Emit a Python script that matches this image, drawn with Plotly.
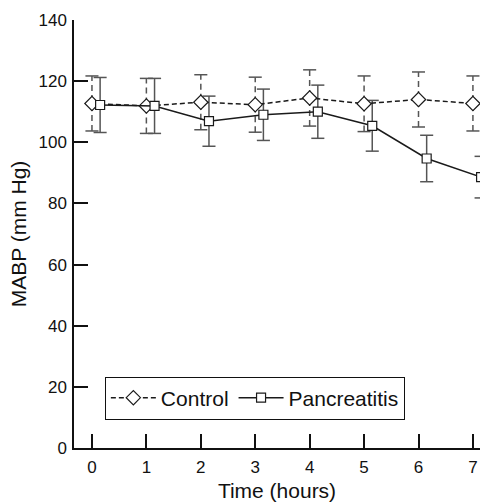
import plotly.graph_objects as go

hours = [0, 1, 2, 3, 4, 5, 6, 7]
control_mean = [112.7, 111.9, 113.1, 112.3, 114.5, 112.6, 114.0, 112.7]
control_sd = [9.0, 9.0, 9.0, 9.0, 9.2, 9.1, 9.0, 9.0]
panc_mean = [112.2, 111.9, 106.9, 109.0, 110.0, 105.4, 94.7, 88.6]
panc_sd = [9.0, 9.0, 8.2, 8.4, 8.7, 8.3, 7.6, 6.8]
panc_offset = 0.15
cap_half = 0.12

x_ctrl = [h for h in hours]
x_panc = [h + panc_offset for h in hours]

LINE = "#1a1a1a"
ERR = "#555555"
FONT = "Arial, Liberation Sans, Helvetica, sans-serif"


def stems(xs, ms, sds):
    xx, yy = [], []
    for x, m, s in zip(xs, ms, sds):
        xx += [x, x, None]
        yy += [m - s, m + s, None]
    return xx, yy


def caps(xs, ms, sds):
    xx, yy = [], []
    for x, m, s in zip(xs, ms, sds):
        for v in (m - s, m + s):
            xx += [x - cap_half, x + cap_half, None]
            yy += [v, v, None]
    return xx, yy


fig = go.Figure()

for xs, ms, sds, dash in [(x_ctrl, control_mean, control_sd, "6px,4px"),
                          (x_panc, panc_mean, panc_sd, "solid")]:
    sx, sy = stems(xs, ms, sds)
    fig.add_trace(go.Scatter(x=sx, y=sy, mode="lines", showlegend=False,
                             hoverinfo="skip",
                             line=dict(color=ERR, width=1.5, dash=dash)))
    cx, cy = caps(xs, ms, sds)
    fig.add_trace(go.Scatter(x=cx, y=cy, mode="lines", showlegend=False,
                             hoverinfo="skip",
                             line=dict(color=ERR, width=1.5)))

fig.add_trace(go.Scatter(
    x=x_ctrl, y=control_mean, mode="lines+markers", name="Control",
    line=dict(color=LINE, width=1.5, dash="5px,3px"),
    marker=dict(symbol="diamond", size=11, color="white",
                line=dict(color=LINE, width=1.2)),
))
fig.add_trace(go.Scatter(
    x=x_panc, y=panc_mean, mode="lines+markers", name="Pancreatitis",
    line=dict(color=LINE, width=1.5),
    marker=dict(symbol="square", size=9, color="white",
                line=dict(color=LINE, width=1.2)),
))

fig.update_layout(
    width=480, height=502,
    margin=dict(l=74, r=0, t=20, b=51),
    paper_bgcolor="white", plot_bgcolor="white",
    font=dict(family=FONT, color="#111111", size=17),
    showlegend=True,
    legend=dict(
        orientation="h", x=0.076, y=0.167, xanchor="left", yanchor="top",
        bordercolor="#111111", borderwidth=1, bgcolor="white",
        font=dict(size=21, family=FONT), itemwidth=45,
    ),
    xaxis=dict(
        range=[-0.33, 7.13], tickmode="array", tickvals=hours,
        ticktext=[str(h) for h in hours],
        ticks="inside", ticklen=14, tickwidth=1.5, tickcolor="#111111",
        showline=True, linecolor="#111111", linewidth=1.5,
        showgrid=False, zeroline=False,
        tickfont=dict(size=17), ticklabelstandoff=3,
        title=dict(text="Time (hours)", font=dict(size=21), standoff=10),
    ),
    yaxis=dict(
        range=[0, 140], dtick=20, tick0=0,
        ticks="inside", ticklen=14, tickwidth=1.5, tickcolor="#111111",
        showline=True, linecolor="#111111", linewidth=1.5,
        showgrid=False, zeroline=False,
        tickfont=dict(size=17), ticklabelstandoff=2,
        title=dict(text="MABP (mm Hg)", font=dict(size=21), standoff=6),
    ),
)

fig.write_html(
    "out.html",
    config={"displayModeBar": False},
    post_script="document.body.style.margin='0';document.body.style.overflow='hidden';",
)
